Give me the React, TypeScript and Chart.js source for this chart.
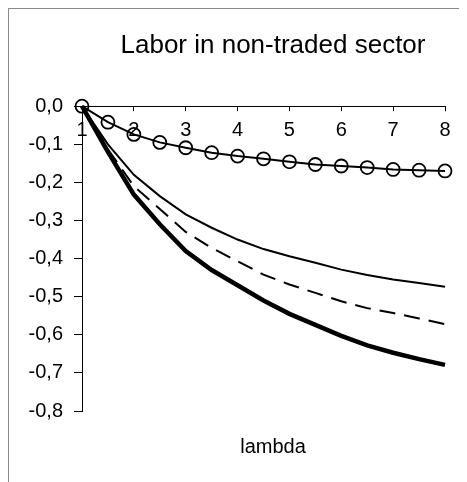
import React, { useEffect, useRef } from "react";
import { Chart, registerables } from "chart.js";

Chart.register(...registerables);

const lambdas = [1, 1.5, 2, 2.5, 3, 3.5, 4, 4.5, 5, 5.5, 6, 6.5, 7, 7.5, 8];
const circleSeries = [0, -0.042, -0.074, -0.095, -0.109, -0.122, -0.131, -0.138, -0.146, -0.153, -0.157, -0.161, -0.166, -0.168, -0.17];
const thinSeries = [0, -0.1, -0.18, -0.236, -0.284, -0.319, -0.35, -0.375, -0.394, -0.411, -0.429, -0.443, -0.455, -0.464, -0.474];
const dashedSeries = [0, -0.113, -0.21, -0.27, -0.33, -0.372, -0.407, -0.442, -0.468, -0.49, -0.512, -0.53, -0.543, -0.557, -0.572];
const thickSeries = [0, -0.12, -0.232, -0.31, -0.38, -0.43, -0.47, -0.51, -0.545, -0.574, -0.603, -0.628, -0.647, -0.664, -0.679];

const titleText = "Labor in non-traded sector";
const xTitleText = "lambda";

const toPts = (ys: number[]) => lambdas.map((x, i) => ({ x, y: ys[i] }));

export default function App() {
  const ref = useRef<HTMLCanvasElement | null>(null);
  useEffect(() => {
    if (!ref.current) return;
    Chart.defaults.color = "#000";
    Chart.defaults.font.family = "'Liberation Sans', Arial, sans-serif";
    const chart = new Chart(ref.current, {
      type: "line",
      data: {
        datasets: [
          {
            data: toPts(thickSeries),
            borderColor: "#000",
            borderWidth: 4.5,
            pointRadius: 0,
            fill: false,
            clip: false as any,
          },
          {
            data: toPts(dashedSeries),
            borderColor: "#000",
            borderWidth: 2,
            borderDash: [16, 9],
            pointRadius: 0,
            fill: false,
            clip: false as any,
          },
          {
            data: toPts(thinSeries),
            borderColor: "#000",
            borderWidth: 2,
            pointRadius: 0,
            fill: false,
            clip: false as any,
          },
          {
            data: toPts(circleSeries),
            borderColor: "#000",
            borderWidth: 2,
            pointRadius: 6.5,
            pointBorderWidth: 1.8,
            pointBorderColor: "#000",
            pointBackgroundColor: "rgba(0,0,0,0)",
            fill: false,
            clip: false as any,
          },
        ],
      },
      options: {
        animation: false,
        responsive: false,
        devicePixelRatio: 1,
        layout: { padding: 0 },
        plugins: {
          legend: { display: false },
          tooltip: { enabled: false },
          title: {
            display: true,
            text: titleText,
            color: "#000",
            font: { size: 26, weight: "normal" },
            padding: { top: 21, bottom: 26 },
          },
          subtitle: {
            display: true,
            position: "bottom",
            text: xTitleText,
            color: "#000",
            font: { size: 20, weight: "normal" },
            padding: { top: 24, bottom: 50 },
          },
        },
        scales: {
          x: {
            type: "linear",
            position: "top",
            min: 1,
            max: 8,
            ticks: {
              stepSize: 1,
              mirror: true,
              padding: 12,
              color: "#000",
              font: { size: 20 },
              maxRotation: 0,
              autoSkip: false,
            },
            grid: {
              drawOnChartArea: false,
              drawTicks: true,
              tickLength: -5,
              color: "#000",
            },
            border: { display: true, color: "#000", width: 1 },
          },
          y: {
            type: "linear",
            min: -0.8,
            max: 0,
            afterFit: (scale: any) => {
              scale.width = 73;
            },
            ticks: {
              stepSize: 0.1,
              padding: 11,
              color: "#000",
              font: { size: 20 },
              callback: (v: any) => Number(v).toFixed(1).replace(".", ","),
            },
            grid: {
              drawOnChartArea: false,
              drawTicks: true,
              tickLength: 8,
              color: "#000",
            },
            border: { display: true, color: "#000", width: 1 },
          },
          yRight: {
            type: "linear",
            position: "right",
            min: -0.8,
            max: 0,
            afterFit: (scale: any) => {
              scale.width = 92;
            },
            ticks: { display: false },
            grid: { display: false },
            border: { display: false },
          },
        },
      },
    });
    return () => chart.destroy();
  }, []);
  return (
    <div
      style={{
        width: 458,
        height: 473,
        borderTop: "1px solid #8a8a8a",
        borderLeft: "1px solid #8a8a8a",
        overflow: "hidden",
        position: "relative",
        background: "#fff",
      }}
    >
      <canvas ref={ref} width={528} height={500} style={{ display: "block", width: 528, height: 500 }} />
    </div>
  );
}
